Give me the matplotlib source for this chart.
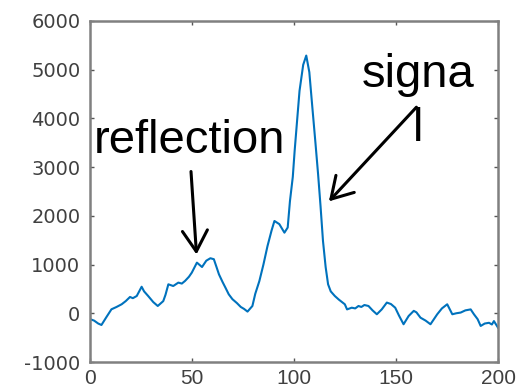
import matplotlib
matplotlib.use('Agg')
import matplotlib.pyplot as plt

plt.rcParams['axes.unicode_minus'] = False

# Trace
x = [0, 2, 4, 5.6, 8, 10.5, 13, 15.5, 17.5, 19.6, 21, 22.9, 25.3, 26.5, 28.5, 31, 33.2, 35.9, 37, 38.4,
     40.8, 43.3, 45, 46.6, 48.5, 49.9, 52.4, 54.9, 57, 59, 60.7, 62, 63.2, 65, 66.4, 68, 69.8, 72, 73.9, 75.5,
     77.2, 79.6, 81, 83, 85, 87, 89, 90.4, 92.8, 95.3, 96.9, 98, 99.4, 100.3, 101.5, 102.7, 104.5, 106, 107.5, 109,
     110.5, 111.8, 113, 114.2, 115.5, 116.7, 118, 120, 122, 124.9, 126, 128.3, 130, 131.6, 133, 134.5, 136.5, 138.5,
     140.6, 143, 145.5, 147.5, 149.6, 151.5, 153.7, 156.2, 158.7, 160, 162, 164.5, 166.9, 170.2, 172.5, 175.1,
     177.6, 179.5, 181.7, 184, 186.6, 188.2, 190, 191.5, 193.5, 195.6, 197, 198, 200]
y = [-120, -150, -210, -240, -80, 82, 130, 185, 250, 335, 310, 355, 545, 450, 355, 230, 150, 250, 380, 595,
     560, 630, 610, 665, 750, 835, 1040, 950, 1080, 1130, 1110, 950, 800, 640, 525, 390, 290, 210, 130, 90,
     35, 150, 400, 660, 1000, 1380, 1700, 1895, 1830, 1655, 1760, 2300, 2800, 3330, 3950, 4565, 5100, 5290, 4950, 4220,
     3500, 2855, 2200, 1485, 950, 595, 450, 355, 280, 185, 80, 115, 100, 150, 130, 170, 150, 60,
     -20, 80, 220, 190, 115, -50, -225, -55, 50, 20, -90, -150, -225, -20, 100, 185,
     -20, 0, 15, 60, 80, -20, -120, -260, -210, -195, -230, -160, -295]

xticks = [0, 50, 100, 150, 200]
yticks = [-1000, 0, 1000, 2000, 3000, 4000, 5000, 6000]

fig = plt.figure(figsize=(5.28, 3.92), dpi=100)
ax = fig.add_axes([0.1705, 0.0765, 0.7727, 0.870])

ax.plot(x, y, color='#0072BD', lw=1.5)

ax.set_xlim(0, 200)
ax.set_ylim(-1000, 6000)
ax.set_xticks(xticks)
ax.set_yticks(yticks)

for s in ax.spines.values():
    s.set_color('#808080')
    s.set_linewidth(1.8)

ax.tick_params(direction='in', top=True, right=True, length=3, width=1, color='#555555',
               labelcolor='#404040')
ax.tick_params(axis='x', pad=5)
ax.tick_params(axis='y', pad=7)
for lab in ax.get_xticklabels():
    lab.set_fontfamily('Liberation Sans')
    lab.set_fontsize(15)
for lab in ax.get_yticklabels():
    lab.set_fontfamily('DejaVu Sans')
    lab.set_fontsize(14)

# annotations
txt = dict(fontfamily='Liberation Sans', fontsize=34, color='black')
ax.text(2, 3290, 'reflection', ha='left', va='baseline', **txt)
ax.text(160.7, 4646, 'signa', ha='center', va='baseline', **txt)
ax.text(160.7, 3540, 'l', ha='center', va='baseline', **txt)

arrow = dict(arrowstyle='->,head_length=0.75,head_width=0.45', lw=2.2, color='black',
             mutation_scale=20, shrinkA=0, shrinkB=0)
ax.annotate('', xy=(52.2, 1208), xytext=(49.5, 2910), arrowprops=arrow)
ax.annotate('', xy=(117.1, 2298), xytext=(160, 4230), arrowprops=arrow)

fig.savefig('out.png', dpi=100)
